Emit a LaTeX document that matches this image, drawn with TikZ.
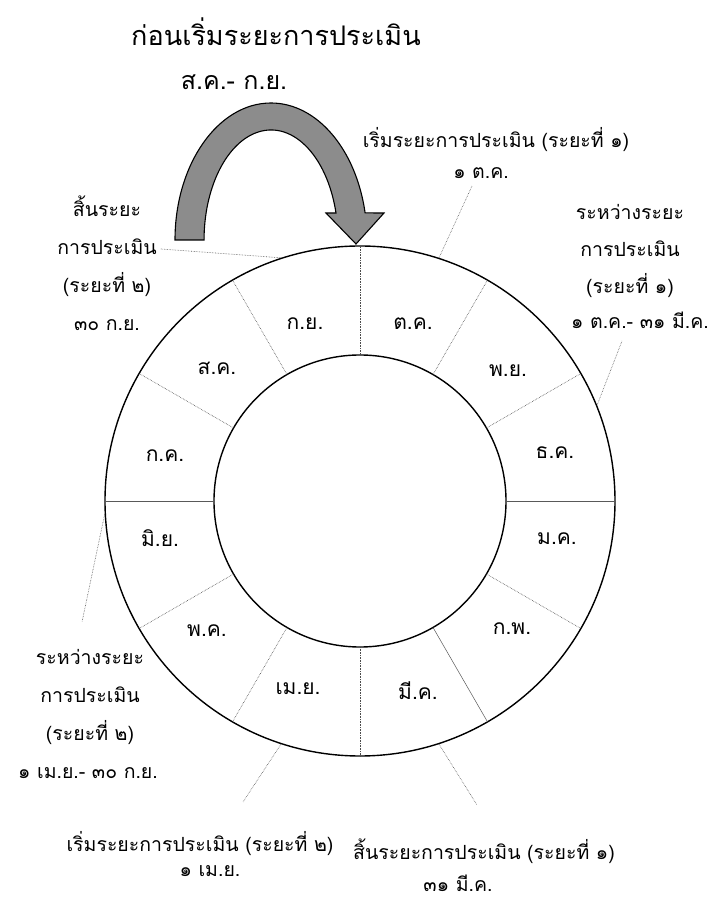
\documentclass[tikz,border=0pt]{standalone}
\usepackage{fontspec}
\newfontfamily\thaifont[Script=Thai]{Loma}
\usetikzlibrary{calc}
\begin{document}
\begin{tikzpicture}[x=1pt,y=1pt,
  lbl/.style={font=\thaifont\fontsize{19.5}{19.5}\selectfont, inner sep=0pt, anchor=base},
  ttl/.style={font=\thaifont\fontsize{27}{27}\selectfont, inner sep=0pt, anchor=base},
  month/.style={font=\thaifont\fontsize{21}{21}\selectfont, inner sep=0pt, anchor=base},
  ring/.style={circle, draw=black, line width=1.4pt, inner sep=0pt},
  sect/.style={densely dotted, line width=0.6pt, black!70},
  sectsolid/.style={line width=0.5pt, black!65},
  leader/.style={densely dotted, line width=0.6pt, black!65},
  bigarrow/.style={fill=black!45, draw=black, line width=1.1pt}]
\useasboundingbox (0,0) rectangle (711,903);
\fill[white] (0,0) rectangle (711,903);
% title
\node[ttl] (title) at (276,857) {ก่อนเริ่มระยะการประเมิน};
\node[ttl, font=\thaifont\fontsize{25}{25}\selectfont] (pre) at (234,813) {ส.ค.- ก.ย.};
% circles
\coordinate (c) at (360,402);
\node[ring, minimum size=510pt] (outer) at (c) {};
\node[ring, minimum size=292pt] (inner) at (c) {};
% sector lines
\foreach \a in {0,30,...,330} {
  \path (c) ++(\a:146pt) coordinate (i\a);
  \path (c) ++(\a:255pt) coordinate (o\a);
}
\foreach \a in {30,60,90,120,150,210,240,270,330} {
  \draw[sect] (i\a) -- (o\a);
}
\foreach \a in {0,180,300} {
  \draw[sectsolid] (i\a) -- (o\a);
}
% months
\node[month] (oct) at (413,573) {ต.ค.};
\node[month] (nov) at (508,526) {พ.ย.};
\node[month] (dec) at (555,444) {ธ.ค.};
\node[month] (jan) at (557,358) {ม.ค.};
\node[month] (feb) at (512,268) {ก.พ.};
\node[month] (mar) at (418,203) {มี.ค.};
\node[month] (apr) at (298,208) {เม.ย.};
\node[month] (may) at (207,266) {พ.ค.};
\node[month] (jun) at (160,356) {มิ.ย.};
\node[month] (jul) at (165,441) {ก.ค.};
\node[month] (aug) at (217,528) {ส.ค.};
\node[month] (sep) at (305,573) {ก.ย.};
% big curved arrow
\draw[bigarrow] (175,663) arc[start angle=180, end angle=11.4, x radius=96pt, y radius=137pt]
  -- (384,690) -- (356,659) -- (326,690) -- (336,690)
  arc[start angle=14.2, end angle=180, x radius=67pt, y radius=110pt] -- cycle;
% top right labels
\node[lbl] (startone) at (496,755) {เริ่มระยะการประเมิน (ระยะที่ ๑)};
\node[lbl] (startonedate) at (481,724) {๑ ต.ค.};
\node[lbl] (r1) at (630,683) {ระหว่างระยะ};
\node[lbl] (r2) at (630,646) {การประเมิน};
\node[lbl] (r3) at (630,609) {(ระยะที่ ๑)};
\node[lbl] (r4) at (640,574) {๑ ต.ค.- ๓๑ มี.ค.};
% left top labels
\node[lbl] (l1) at (107,686) {สิ้นระยะ};
\node[lbl] (l2) at (107,648) {การประเมิน};
\node[lbl] (l3) at (107,610) {(ระยะที่ ๒)};
\node[lbl] (l4) at (107,572) {๓๐ ก.ย.};
% left bottom labels
\node[lbl] (b1) at (90,238) {ระหว่างระยะ};
\node[lbl] (b2) at (90,200) {การประเมิน};
\node[lbl] (b3) at (90,162) {(ระยะที่ ๒)};
\node[lbl] (b4) at (88,124) {๑ เม.ย.- ๓๐ ก.ย.};
% bottom labels
\node[lbl] (starttwo) at (200,51) {เริ่มระยะการประเมิน (ระยะที่ ๒)};
\node[lbl] (starttwodate) at (210,27) {๑ เม.ย.};
\node[lbl] (endone) at (484,43) {สิ้นระยะการประเมิน (ระยะที่ ๑)};
\node[lbl] (endonedate) at (458,11) {๓๑ มี.ค.};
% leaders
\coordinate (e1) at (472,717);
\coordinate (e2) at (622,562);
\coordinate (e4) at (82,281);
\coordinate (e5) at (243,101);
\coordinate (e6) at (477,98);
\draw[leader] (outer.72.5) -- (e1);
\draw[leader] (outer.22) -- (e2);
\draw[leader] ($(l2.base east)+(4,6)$) -- (outer.108);
\draw[leader] (outer.183) -- (e4);
\draw[leader] (outer.252) -- (e5);
\draw[leader] (outer.288) -- (e6);
\end{tikzpicture}
\end{document}
